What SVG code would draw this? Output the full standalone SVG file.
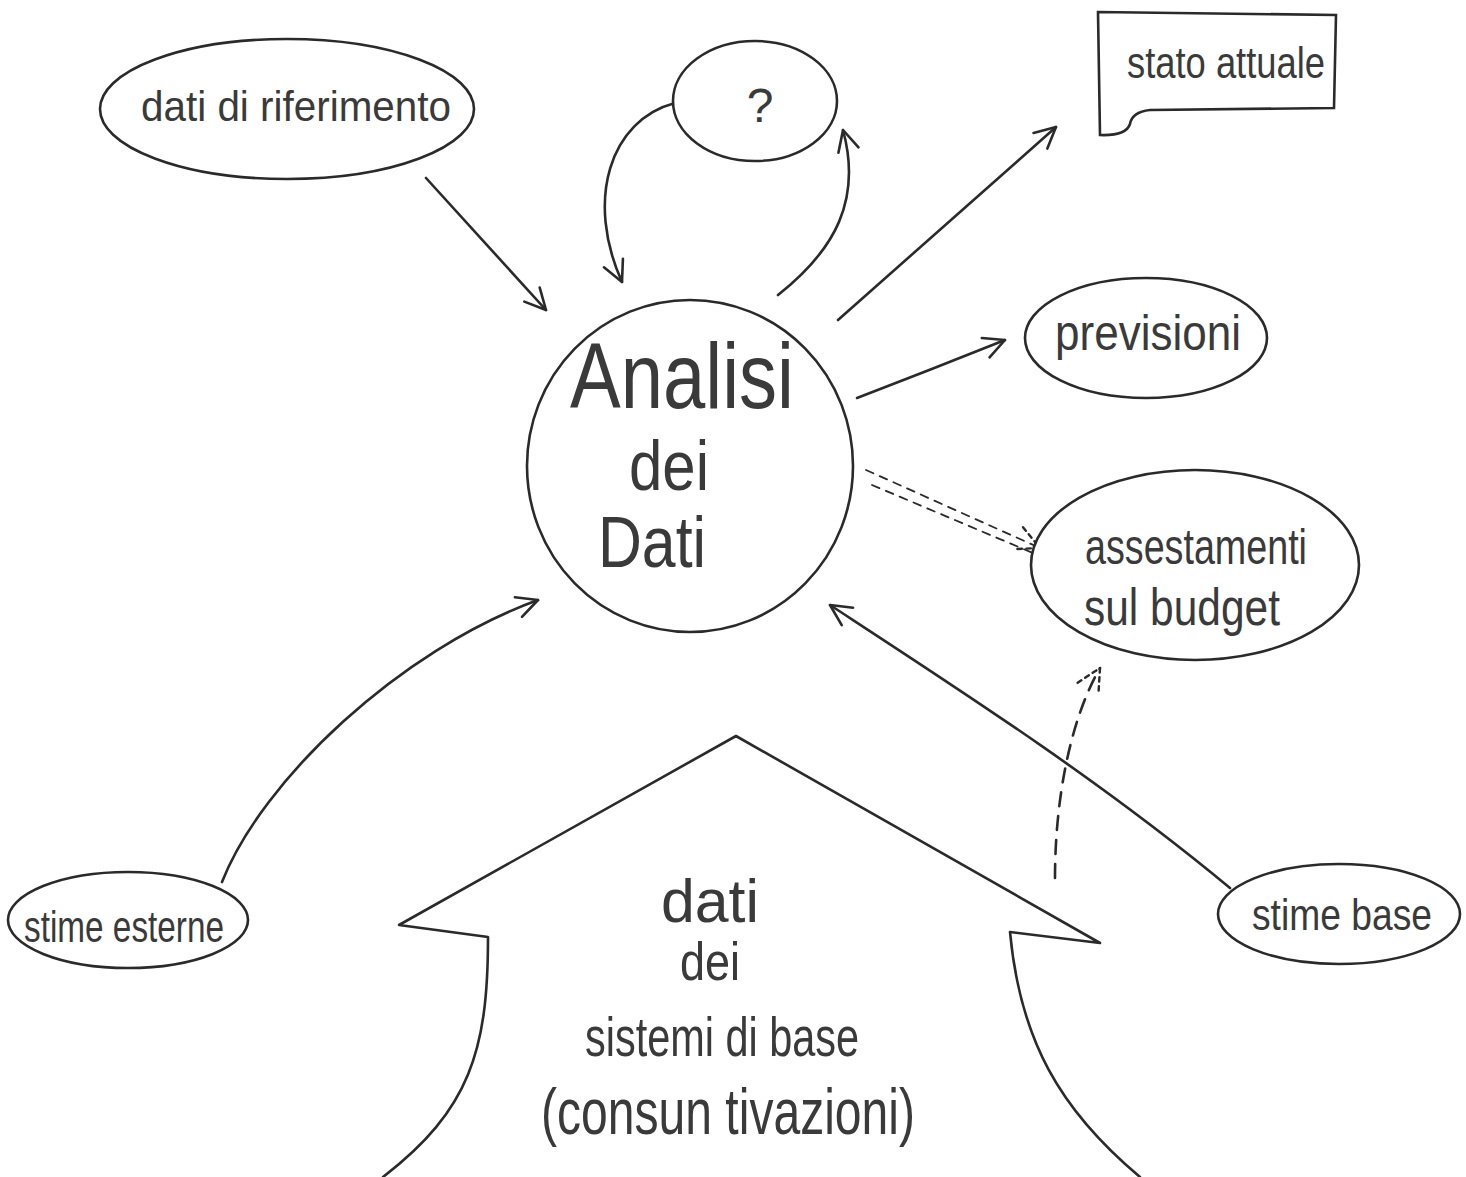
<svg xmlns="http://www.w3.org/2000/svg" width="1466" height="1177" viewBox="0 0 1466 1177">
<style>
.s{fill:none;stroke:#2a2a2a;stroke-width:2.6;stroke-linecap:round;stroke-linejoin:round}
.n{fill:#fff;stroke:#2a2a2a;stroke-width:2.6}
.t{font-family:"Liberation Sans","DejaVu Sans",sans-serif;fill:#3a3a3a;font-weight:normal;text-anchor:middle}
.d{stroke-dasharray:14 10}
.d2{stroke-dasharray:8 7;stroke-width:1.8}
</style>
<defs>
<marker id="ah" viewBox="0 0 20 20" refX="18" refY="10" markerWidth="26" markerHeight="26" markerUnits="userSpaceOnUse" orient="auto">
<path d="M2,2 L18,10 L2,18" fill="none" stroke="#2a2a2a" stroke-width="2" stroke-linecap="round" stroke-linejoin="round"/>
</marker>
<marker id="ahd" viewBox="0 0 20 20" refX="18" refY="10" markerWidth="30" markerHeight="30" markerUnits="userSpaceOnUse" orient="auto">
<path d="M2,2 L18,10 L2,18" fill="none" stroke="#2a2a2a" stroke-width="1.6" stroke-dasharray="3 3" stroke-linecap="round"/>
</marker>
</defs>
<rect width="1466" height="1177" fill="#fff"/>

<g id="connectors">
<path class="s" d="M426,178 L546,310" marker-end="url(#ah)"/>
<path class="s" d="M675,103 C610,120 585,200 622,282" marker-end="url(#ah)"/>
<path class="s" d="M778,295 C835,250 862,200 843,130" marker-end="url(#ah)"/>
<path class="s" d="M838,320 L1056,127" marker-end="url(#ah)"/>
<path class="s" d="M857,398 Q930,370 1005,340" marker-end="url(#ah)"/>
<path class="s d2" d="M866,470 L1040,548" marker-end="url(#ahd)"/>
<path class="s d2" d="M872,485 L1040,556"/>
<path class="s" d="M222,882 C262,780 400,650 538,600" marker-end="url(#ah)"/>
<path class="s" d="M1230,888 C1100,780 960,690 830,605" marker-end="url(#ah)"/>
<path class="s d" d="M1055,878 C1055,800 1070,720 1100,668" marker-end="url(#ahd)"/>
</g>

<g id="node-riferimento">
<ellipse class="n" cx="287" cy="109" rx="187" ry="70"/>
<text class="t" x="296" y="121" font-size="42" textLength="310" lengthAdjust="spacingAndGlyphs">dati di riferimento</text>
</g>

<g id="node-question">
<ellipse class="n" cx="755" cy="101" rx="82" ry="60"/>
<text class="t" x="760" y="122" font-size="48">?</text>
</g>

<g id="node-stato">
<path class="n" d="M1098,12 L1336,15 L1334,108 L1150,110 Q1132,112 1130,124 Q1126,136 1100,135 Z"/>
<text class="t" x="1226" y="78" font-size="44" textLength="198" lengthAdjust="spacingAndGlyphs">stato attuale</text>
</g>

<g id="node-analisi">
<ellipse class="n" cx="690" cy="466" rx="163" ry="166"/>
<text class="t" x="682" y="408" font-size="92" textLength="224" lengthAdjust="spacingAndGlyphs">Analisi</text>
<text class="t" x="669" y="490" font-size="70" textLength="80" lengthAdjust="spacingAndGlyphs">dei</text>
<text class="t" x="652" y="567" font-size="72" textLength="108" lengthAdjust="spacingAndGlyphs">Dati</text>
</g>

<g id="node-previsioni">
<ellipse class="n" cx="1146" cy="338" rx="121" ry="60"/>
<text class="t" x="1148" y="350" font-size="50" textLength="186" lengthAdjust="spacingAndGlyphs">previsioni</text>
</g>

<g id="node-assestamenti">
<ellipse class="n" cx="1195" cy="565" rx="164" ry="95"/>
<text class="t" x="1196" y="564" font-size="50" textLength="222" lengthAdjust="spacingAndGlyphs">assestamenti</text>
<text class="t" x="1182" y="625" font-size="52" textLength="196" lengthAdjust="spacingAndGlyphs">sul budget</text>
</g>

<g id="node-esterne">
<ellipse class="n" cx="128" cy="920" rx="120" ry="48"/>
<text class="t" x="124" y="942" font-size="44" textLength="200" lengthAdjust="spacingAndGlyphs">stime esterne</text>
</g>

<g id="node-base">
<ellipse class="n" cx="1339" cy="914" rx="121" ry="50"/>
<text class="t" x="1342" y="930" font-size="44" textLength="180" lengthAdjust="spacingAndGlyphs">stime base</text>
</g>

<g id="node-sistemi">
<path class="s" d="M383,1177 C470,1110 488,1050 488,937 L399,925 L736,736 L1100,943 L1010,932 C1020,1040 1060,1110 1140,1177"/>
<text class="t" x="710" y="922" font-size="62" textLength="98" lengthAdjust="spacingAndGlyphs">dati</text>
<text class="t" x="710" y="980" font-size="54" textLength="60" lengthAdjust="spacingAndGlyphs">dei</text>
<text class="t" x="722" y="1056" font-size="56" textLength="274" lengthAdjust="spacingAndGlyphs">sistemi di base</text>
<text class="t" x="728" y="1134" font-size="64" textLength="374" lengthAdjust="spacingAndGlyphs">(consun tivazioni)</text>
</g>
</svg>
